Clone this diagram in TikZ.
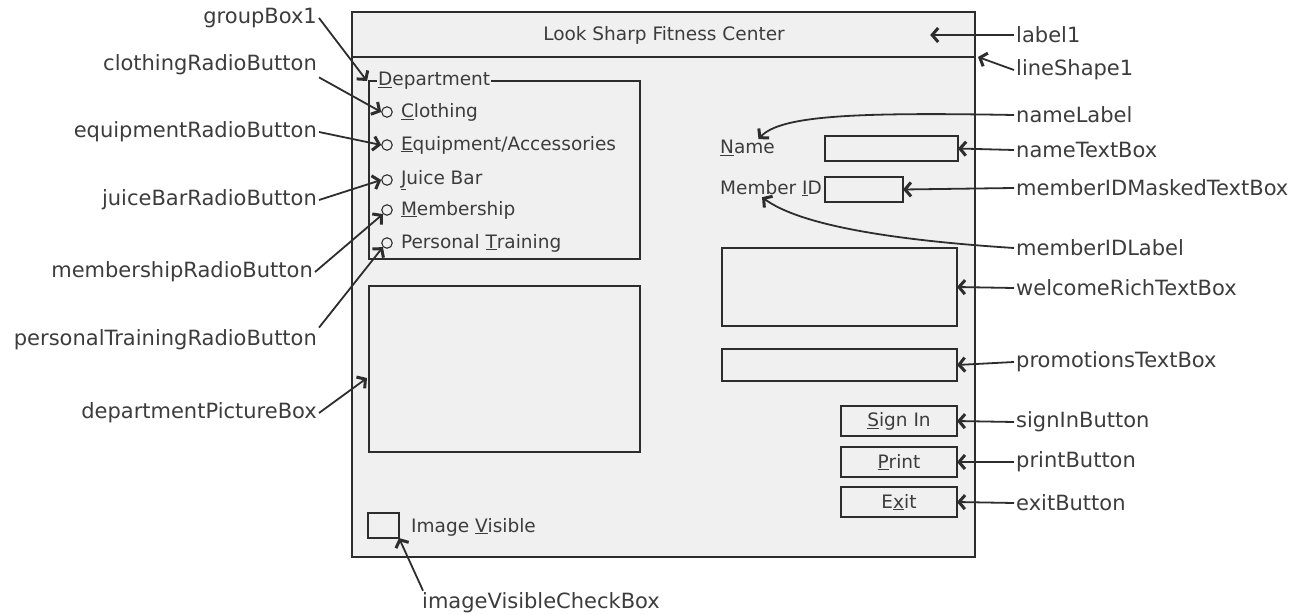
\documentclass[tikz,border=0pt]{standalone}
\usepackage{fontspec}
\setmainfont{DejaVu Sans}
\usetikzlibrary{arrows.meta, positioning}
\definecolor{formgray}{RGB}{240,240,240}
\definecolor{inkgray}{RGB}{45,45,45}
\definecolor{textgray}{RGB}{60,60,60}
\newcommand{\formfont}{\fontsize{18.5}{22}\selectfont}
\newcommand{\notefont}{\fontsize{21}{25}\selectfont}
\newcommand{\acc}[1]{\underline{#1}}
\tikzset{
  form/.style={draw=inkgray, line width=1.2pt, fill=formgray, inner sep=0pt,
    outer sep=0pt, anchor=north west},
  ctl/.style={draw=inkgray, line width=1.2pt, inner sep=0pt, outer sep=0pt,
    anchor=north west, font=\formfont, text=textgray},
  ctltext/.style={inner sep=1pt, font=\formfont, text=textgray},
  radio/.style={circle, draw=inkgray, line width=1.1pt, minimum size=10.5pt,
    inner sep=0pt},
  note/.style={inner sep=2pt, font=\notefont, text=textgray},
  pointer/.style={draw=inkgray, line width=1.8pt,
    -{Straight Barb[length=6pt, width=14pt, line width=3pt]}}
}

\begin{document}
\begin{tikzpicture}[x=1pt, y=-1pt]
  \useasboundingbox (0,0) rectangle (1299,615);

  % the form and its title bar
  \node[form, minimum width=623pt, minimum height=545pt] (form) at (352,12) {};
  \coordinate (titleL) at (352,57);
  \coordinate (titleR) at (975,57);
  \draw[draw=inkgray, line width=1.2pt] (titleL) -- (titleR);
  \node[ctltext, minimum width=532pt] (titleLbl) at (664,35) {Look Sharp Fitness Center};

  % department group box
  \node[ctl, minimum width=271pt, minimum height=178pt] (groupBox) at (369,81) {};
  \node[ctltext, fill=formgray, anchor=west] (groupCap) at (377,81) {\acc{D}epartment};
  \node[radio] (clothRB) at (387,112) {};
  \node[radio] (equipRB) at (387,145) {};
  \node[radio] (juiceRB) at (387,180) {};
  \node[radio] (memRB) at (387,210) {};
  \node[radio] (trainRB) at (387,243) {};
  \node[ctltext, right=7pt of clothRB] (clothTxt) {\acc{C}lothing};
  \node[ctltext, right=7pt of equipRB] (equipTxt) {\acc{E}quipment/Accessories};
  \node[ctltext, right=7pt of juiceRB] (juiceTxt) {\acc{J}uice Bar};
  \node[ctltext, right=7pt of memRB] (memTxt) {\acc{M}embership};
  \node[ctltext, right=7pt of trainRB] (trainTxt) {Personal \acc{T}raining};

  % picture box and check box
  \node[ctl, minimum width=271pt, minimum height=166pt] (picBox) at (369,286) {};
  \node[ctl, minimum width=31pt, minimum height=25pt] (chkBox) at (368,513) {};
  \node[ctltext, anchor=west] (chkTxt) at (410,527) {Image \acc{V}isible};

  % member fields
  \node[ctltext, anchor=west] (nameLbl) at (719,148) {\acc{N}ame};
  \node[ctl, minimum width=133pt, minimum height=25pt] (nameTB) at (825,136) {};
  \node[ctltext, anchor=west] (idLbl) at (719,188) {Member \acc{I}D};
  \node[ctl, minimum width=78pt, minimum height=25pt] (idTB) at (825,177) {};
  \node[ctl, minimum width=235pt, minimum height=78pt] (welcomeRTB) at (722,248) {};
  \node[ctl, minimum width=235pt, minimum height=32pt] (promoTB) at (722,349) {};

  % buttons
  \node[ctl, minimum width=116pt, minimum height=30pt] (signInBtn) at (841,406) {\acc{S}ign In};
  \node[ctl, minimum width=116pt, minimum height=30pt] (printBtn) at (841,447) {\acc{P}rint};
  \node[ctl, minimum width=116pt, minimum height=30pt] (exitBtn) at (841,487) {E\acc{x}it};

  % names on the left
  \node[note, anchor=east] (groupNote) at (319,18) {groupBox1};
  \node[note, anchor=east] (clothNote) at (319,65) {clothingRadioButton};
  \node[note, anchor=east] (equipNote) at (319,132) {equipmentRadioButton};
  \node[note, anchor=east] (juiceNote) at (319,200) {juiceBarRadioButton};
  \node[note, anchor=east] (memNote) at (315,272) {membershipRadioButton};
  \node[note, anchor=east] (trainNote) at (319,340) {personalTrainingRadioButton};
  \node[note, anchor=east] (picNote) at (319,413) {departmentPictureBox};
  \node[note, anchor=west] (chkNote) at (420,603) {imageVisibleCheckBox};

  % names on the right
  \node[note, anchor=west] (titleNote) at (1014,35) {label1};
  \node[note, anchor=west] (lineNote) at (1014,70) {lineShape1};
  \node[note, anchor=west] (nameLblNote) at (1014,115) {nameLabel};
  \node[note, anchor=west] (nameTBNote) at (1014,150) {nameTextBox};
  \node[note, anchor=west] (idTBNote) at (1014,188) {memberIDMaskedTextBox};
  \node[note, anchor=west] (idLblNote) at (1014,248) {memberIDLabel};
  \node[note, anchor=west] (welcomeNote) at (1014,288) {welcomeRichTextBox};
  \node[note, anchor=west] (promoNote) at (1014,362) {promotionsTextBox};
  \node[note, anchor=west] (signInNote) at (1014,422) {signInButton};
  \node[note, anchor=west] (printNote) at (1014,462) {printButton};
  \node[note, anchor=west] (exitNote) at (1014,503) {exitButton};

  % pointers, left side
  \draw[pointer] (groupNote.east) -- ([xshift=-2pt]groupBox.north west);
  \draw[pointer] (clothNote.south east) -- (clothRB.west);
  \draw[pointer] (equipNote.east) -- (equipRB.west);
  \draw[pointer] (juiceNote.east) -- (juiceRB.west);
  \draw[pointer] (memNote.east) -- (memRB.south west);
  \draw[pointer] (trainNote.north east) -- (trainRB.south west);
  \draw[pointer] (picNote.east) -- ([xshift=-2pt, yshift=-9pt]picBox.west);
  \draw[pointer] ([xshift=3pt]chkNote.north west) -- (chkBox.south east);

  % pointers, right side
  \draw[pointer] (titleNote.west) -- (titleLbl.east);
  \draw[pointer] (lineNote.west) -- ([xshift=3pt]titleR);
  \draw[pointer] (nameLblNote.west) .. controls (850,112) and (780,116) .. ([xshift=11pt]nameLbl.north);
  \draw[pointer] (nameTBNote.west) -- (nameTB.east);
  \draw[pointer] (idTBNote.west) -- (idTB.east);
  \draw[pointer] (idLblNote.west) .. controls (890,240) and (800,225) .. ([xshift=-9pt]idLbl.south);
  \draw[pointer] (welcomeNote.west) -- (welcomeRTB.east);
  \draw[pointer] (promoNote.west) -- (promoTB.east);
  \draw[pointer] (signInNote.west) -- (signInBtn.east);
  \draw[pointer] (printNote.west) -- (printBtn.east);
  \draw[pointer] (exitNote.west) -- (exitBtn.east);
\end{tikzpicture}
\end{document}
